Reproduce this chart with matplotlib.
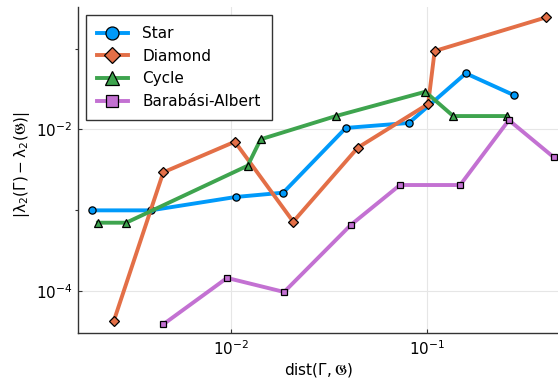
import matplotlib
matplotlib.use("Agg", force=True)
import matplotlib.pyplot as plt
from matplotlib.ticker import LogFormatterMathtext, NullFormatter

plt.rcParams['font.family'] = ['DejaVu Sans']
plt.rcParams['mathtext.fontset'] = 'dejavusans'

# data (log-log)
star_x = [0.00198, 0.00392, 0.0106, 0.0185, 0.0385, 0.0807, 0.157, 0.275]
star_y = [0.00099, 0.00099, 0.00145, 0.00164, 0.0104, 0.0120, 0.0494, 0.0266]

diamond_x = [0.00254, 0.00454, 0.0105, 0.0208, 0.0443, 0.101, 0.109, 0.402]
diamond_y = [4.18e-5, 0.00293, 0.00702, 0.000716, 0.00592, 0.0206, 0.0933, 0.244]

cycle_x = [0.00211, 0.00294, 0.0122, 0.0142, 0.0343, 0.0977, 0.1355, 0.254]
cycle_y = [0.000696, 0.000696, 0.00354, 0.00752, 0.0146, 0.0292, 0.0146, 0.0146]

ba_x = [0.00454, 0.00958, 0.0187, 0.0408, 0.0726, 0.147, 0.260, 0.440]
ba_y = [3.83e-5, 0.000144, 9.64e-5, 0.000652, 0.00204, 0.00204, 0.0130, 0.00450]

series = [
    ("Star", star_x, star_y, '#009AFA', 'o', 5.2),
    ("Diamond", diamond_x, diamond_y, '#E36F47', 'D', 4.6),
    ("Cycle", cycle_x, cycle_y, '#3EA44E', '^', 5.2),
    ("Barabási-Albert", ba_x, ba_y, '#C371D2', 's', 4.8),
]

fig = plt.figure(figsize=(5.58, 3.81), dpi=100)
ax = fig.add_axes([0.1398, 0.1252, 0.8602, 0.8564])

for name, xs, ys, color, marker, ms in series:
    ax.plot(xs, ys, color=color, lw=2.8, marker=marker, markersize=ms,
            markerfacecolor=color, markeredgecolor='black', markeredgewidth=0.9,
            label=name)

ax.set_xscale('log')
ax.set_yscale('log')
ax.set_xlim(0.001672, 0.4623)
ax.set_ylim(2.965e-5, 0.3279)

ax.set_xticks([1e-2, 1e-1])
ax.set_yticks([1e-4, 1e-2])
ax.set_xticks([], minor=True)
ax.set_yticks([1e-3, 1e-1], minor=True)
ax.xaxis.set_major_formatter(LogFormatterMathtext())
ax.yaxis.set_major_formatter(LogFormatterMathtext())
ax.yaxis.set_minor_formatter(NullFormatter())

ax.tick_params(which='major', direction='in', length=3, width=0.8,
               labelsize=11, pad=4, color='#333333')
ax.tick_params(which='minor', direction='out', length=2, width=0.8, color='#333333')

ax.grid(True, which='major', color='#e6e6e6', linewidth=0.8)
ax.set_axisbelow(True)

for side in ['top', 'right']:
    ax.spines[side].set_visible(False)
for side in ['left', 'bottom']:
    ax.spines[side].set_color('#333333')
    ax.spines[side].set_linewidth(1.0)

ax.set_xlabel(r'$\mathrm{dist}(\Gamma, \mathfrak{G})$', fontsize=11)
ax.set_ylabel(r'$|\mathrm{\lambda}_2(\Gamma) - \mathrm{\lambda}_2(\mathfrak{G})|$', fontsize=11)
ax.xaxis.set_label_coords(0.5, -0.085)
ax.yaxis.set_label_coords(-0.096, 0.515)

leg = ax.legend(loc='upper left', fontsize=11, markerscale=1.8, handlelength=2.0,
                handletextpad=0.95, labelspacing=0.5, borderpad=0.75,
                borderaxespad=0.5, fancybox=False, framealpha=1.0)
leg.get_frame().set_edgecolor('#333333')
leg.get_frame().set_linewidth(1.0)

fig.savefig("out.png", dpi=100)
